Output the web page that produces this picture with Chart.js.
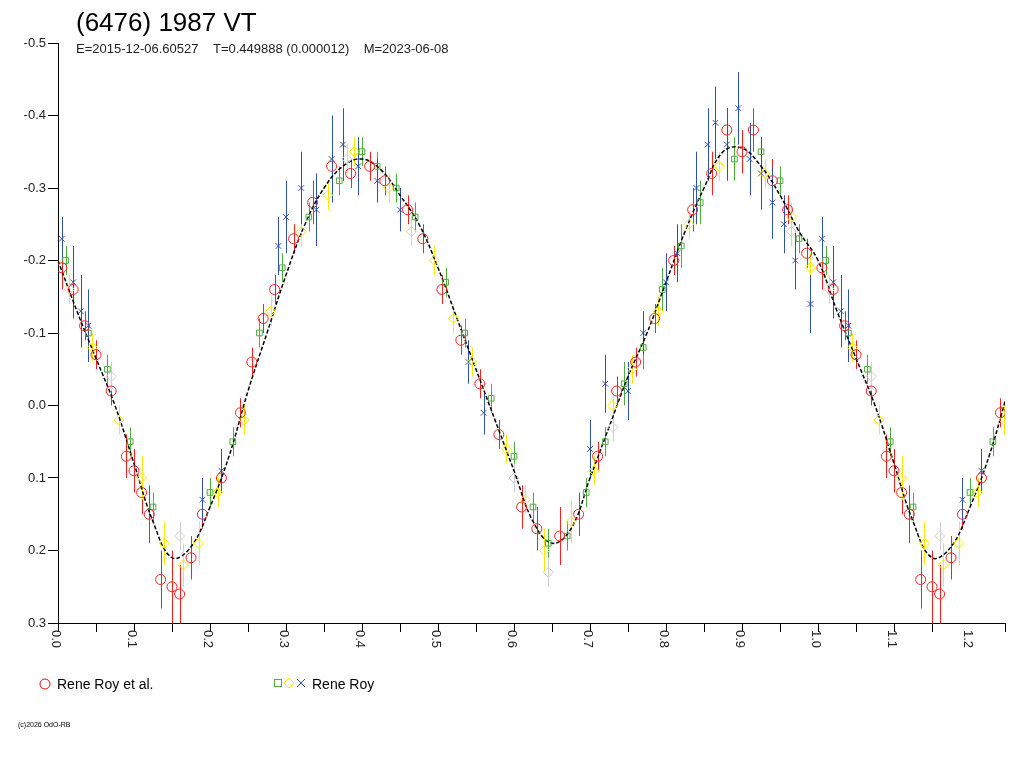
<!DOCTYPE html>
<html>
<head>
<meta charset="utf-8">
<script src="https://cdn.jsdelivr.net/npm/chart.js@4"></script>
<style>
  body { margin: 0; background: #fff; }
  canvas { display: block; }
</style>
</head>
<body>
<canvas id="c" width="1024" height="768"></canvas>
<script>
// phase, magnitude, error
const fitPhase = [0, 0.025, 0.05, 0.075, 0.1, 0.125, 0.15, 0.175, 0.2, 0.225, 0.25, 0.275, 0.3, 0.325, 0.35, 0.375, 0.4, 0.425, 0.45, 0.475, 0.5, 0.525, 0.55, 0.575, 0.6, 0.625, 0.65, 0.675, 0.7, 0.725, 0.75, 0.775, 0.8, 0.825, 0.85, 0.875, 0.9, 0.925, 0.95, 0.975, 1.0]
const fitMag = [-0.2, -0.13, -0.065, 0.0, 0.08, 0.16, 0.21, 0.195, 0.14, 0.07, -0.02, -0.1, -0.18, -0.25, -0.3, -0.33, -0.34, -0.325, -0.29, -0.25, -0.19, -0.12, -0.05, 0.02, 0.09, 0.16, 0.19, 0.17, 0.1, 0.03, -0.04, -0.1, -0.17, -0.24, -0.3, -0.35, -0.355, -0.33, -0.29, -0.24, -0.2]

const royAl = [[0.005,-0.19,0.03],[0.02,-0.16,0.03],[0.035,-0.11,0.02],[0.05,-0.07,0.02],[0.07,-0.02,0.02],[0.09,0.07,0.03],[0.1,0.09,0.03],[0.11,0.12,0.03],[0.12,0.15,0.04],[0.135,0.24,0.04],[0.15,0.25,0.05],[0.16,0.26,0.04],[0.175,0.21,0.03],[0.19,0.15,0.02],[0.215,0.1,0.02],[0.24,0.01,0.02],[0.255,-0.06,0.02],[0.27,-0.12,0.02],[0.285,-0.16,0.02],[0.31,-0.23,0.02],[0.335,-0.28,0.03],[0.36,-0.33,0.02],[0.385,-0.32,0.02],[0.41,-0.33,0.02],[0.43,-0.31,0.02],[0.46,-0.27,0.02],[0.48,-0.23,0.02],[0.505,-0.16,0.02],[0.53,-0.09,0.02],[0.555,-0.03,0.02],[0.58,0.04,0.02],[0.61,0.14,0.03],[0.63,0.17,0.03],[0.66,0.18,0.04],[0.685,0.15,0.03],[0.71,0.07,0.02],[0.735,-0.02,0.02],[0.76,-0.06,0.02],[0.785,-0.12,0.02],[0.81,-0.2,0.02],[0.835,-0.27,0.03],[0.86,-0.32,0.03],[0.88,-0.38,0.03],[0.9,-0.35,0.03],[0.915,-0.38,0.03],[0.94,-0.31,0.03],[0.96,-0.27,0.02],[0.985,-0.21,0.02]]
const royGreen = [[0.01,-0.2,0.02],[0.04,-0.1,0.02],[0.065,-0.05,0.02],[0.095,0.05,0.02],[0.125,0.14,0.02],[0.2,0.12,0.02],[0.23,0.05,0.02],[0.265,-0.1,0.02],[0.295,-0.19,0.02],[0.33,-0.26,0.02],[0.37,-0.31,0.02],[0.4,-0.35,0.02],[0.42,-0.33,0.02],[0.445,-0.3,0.02],[0.47,-0.26,0.02],[0.51,-0.17,0.02],[0.535,-0.1,0.02],[0.57,-0.01,0.02],[0.6,0.07,0.02],[0.625,0.14,0.02],[0.645,0.19,0.02],[0.67,0.18,0.02],[0.695,0.12,0.02],[0.72,0.05,0.02],[0.745,-0.03,0.03],[0.77,-0.08,0.03],[0.795,-0.16,0.03],[0.82,-0.22,0.03],[0.845,-0.28,0.03],[0.89,-0.34,0.03],[0.925,-0.35,0.02],[0.95,-0.31,0.02],[0.975,-0.23,0.02]]
const royYellow = [[0.015,-0.16,0.02],[0.045,-0.08,0.02],[0.08,0.02,0.02],[0.11,0.1,0.03],[0.14,0.19,0.03],[0.165,0.22,0.03],[0.185,0.19,0.03],[0.21,0.12,0.02],[0.245,0.02,0.02],[0.28,-0.13,0.02],[0.32,-0.24,0.02],[0.355,-0.29,0.02],[0.39,-0.35,0.02],[0.435,-0.3,0.02],[0.465,-0.24,0.02],[0.495,-0.2,0.02],[0.52,-0.12,0.02],[0.545,-0.06,0.02],[0.59,0.06,0.02],[0.615,0.13,0.02],[0.64,0.2,0.03],[0.675,0.16,0.03],[0.705,0.09,0.02],[0.73,0.0,0.02],[0.755,-0.05,0.02],[0.79,-0.13,0.02],[0.83,-0.25,0.02],[0.87,-0.33,0.02],[0.93,-0.32,0.02],[0.965,-0.26,0.02],[0.99,-0.19,0.02]]
const royBlue = [[0.005,-0.23,0.03],[0.02,-0.17,0.05],[0.03,-0.13,0.05],[0.04,-0.11,0.05],[0.19,0.13,0.03],[0.215,0.09,0.03],[0.29,-0.22,0.04],[0.3,-0.26,0.05],[0.32,-0.3,0.05],[0.34,-0.27,0.05],[0.36,-0.34,0.06],[0.375,-0.36,0.05],[0.395,-0.33,0.04],[0.42,-0.31,0.03],[0.45,-0.27,0.03],[0.54,-0.06,0.03],[0.56,0.01,0.03],[0.7,0.06,0.04],[0.72,-0.03,0.04],[0.75,-0.02,0.04],[0.77,-0.1,0.03],[0.8,-0.17,0.04],[0.815,-0.21,0.04],[0.84,-0.3,0.05],[0.855,-0.36,0.05],[0.865,-0.39,0.05],[0.88,-0.36,0.05],[0.895,-0.41,0.05],[0.91,-0.34,0.05],[0.925,-0.32,0.05],[0.94,-0.28,0.05],[0.955,-0.25,0.04],[0.97,-0.2,0.04],[0.99,-0.14,0.04]]
const royGrey = [[0.07,-0.04,0.02],[0.16,0.18,0.02],[0.38,-0.34,0.02],[0.6,0.1,0.02],[0.645,0.23,0.02],[0.73,0.03,0.02],[0.965,-0.24,0.02]]

const yTicks = ['-0.5', '-0.4', '-0.3', '-0.2', '-0.1', '0.0', '0.1', '0.2', '0.3']

// repeat phases below 0.25 past 1.0
function wrap(arr) {
  let out = arr.map(p => ({ x: p[0], y: p[1], e: p[2] }))
  arr.forEach(p => { if (p[0] < 0.25) out.push({ x: p[0] + 1, y: p[1], e: p[2] }) })
  return out
}
let fitData = fitPhase.map((p, i) => ({ x: p, y: fitMag[i] }))
fitPhase.forEach((p, i) => { if (p > 0 && p <= 0.25) fitData.push({ x: p + 1, y: fitMag[i] }) })

function pointSet(label, arr, color, style, r) {
  return {
    type: 'scatter', label: label, data: wrap(arr), pointStyle: style, pointRadius: r,
    borderColor: color, backgroundColor: 'rgba(0,0,0,0)', borderWidth: 1, errColor: color,
  }
}

const errorBars = {
  id: 'errorBars',
  beforeDatasetsDraw(chart) {
    const { ctx, scales } = chart
    ctx.save()
    ctx.lineWidth = 1
    chart.data.datasets.forEach(ds => {
      if (!ds.errColor) return
      ctx.strokeStyle = ds.errColor
      ds.data.forEach(p => {
        let x = Math.round(scales.x.getPixelForValue(p.x)) + 0.5
        ctx.beginPath()
        ctx.moveTo(x, scales.y.getPixelForValue(p.y - p.e))
        ctx.lineTo(x, scales.y.getPixelForValue(p.y + p.e))
        ctx.stroke()
      })
    })
    ctx.restore()
  },
  afterDraw(chart) {
    const { ctx, scales } = chart
    ctx.save()
    ctx.fillStyle = '#000'
    ctx.font = '26px "Liberation Sans"'
    ctx.fillText('(6476) 1987 VT', 76, 31)
    ctx.fillStyle = '#222'
    ctx.font = '13px "Liberation Sans"'
    ctx.fillText('E=2015-12-06.60527    T=0.449888 (0.000012)    M=2023-06-08', 76, 53)
    // x tick labels, reading downward
    ctx.font = '13px "Liberation Sans"'
    for (let i = 0; i <= 12; i++) {
      let x = scales.x.getPixelForValue(i / 10)
      ctx.save()
      ctx.translate(x - 6, 630)
      ctx.rotate(Math.PI / 2)
      ctx.textBaseline = 'alphabetic'
      ctx.fillText((i / 10).toFixed(1), 0, 0)
      ctx.restore()
    }
    // legend
    ctx.font = '14px "Liberation Sans"'
    ctx.lineWidth = 1
    ctx.strokeStyle = 'red'
    ctx.beginPath(); ctx.arc(45, 684, 5, 0, Math.PI * 2); ctx.stroke()
    ctx.fillStyle = '#000'
    ctx.fillText('Rene Roy et al.', 57, 689)
    ctx.strokeStyle = '#4caf3c'; ctx.strokeRect(274.5, 679.5, 7, 7)
    ctx.strokeStyle = '#ffe800'
    ctx.beginPath(); ctx.moveTo(289, 678); ctx.lineTo(294, 683); ctx.lineTo(289, 688); ctx.lineTo(284, 683); ctx.closePath(); ctx.stroke()
    ctx.strokeStyle = '#3050b0'
    ctx.beginPath(); ctx.moveTo(297, 679); ctx.lineTo(305, 687); ctx.moveTo(305, 679); ctx.lineTo(297, 687); ctx.stroke()
    ctx.fillText('Rene Roy', 312, 689)
    ctx.font = '7px "Liberation Sans"'
    ctx.fillText('(c)2026 OdO-RB', 18, 727)
    ctx.restore()
  },
}

new Chart(document.getElementById('c'), {
  data: {
    datasets: [
      pointSet('Rene Roy et al.', royAl, '#ff2020', 'circle', 5),
      pointSet('Rene Roy', royGreen, '#4caf3c', 'rect', 4),
      pointSet('Rene Roy', royYellow, '#ffe800', 'rectRot', 5),
      pointSet('Rene Roy', royGrey, '#d0d0d0', 'rectRot', 5),
      pointSet('Rene Roy', royBlue, '#3050b0', 'crossRot', 4),
      {
        type: 'line', label: 'fit', data: fitData, borderColor: '#000', borderWidth: 1.5,
        borderDash: [4, 2], pointRadius: 0, tension: 0.4, fill: false,
      },
    ],
  },
  options: {
    responsive: false,
    animation: false,
    layout: { padding: { top: 43, right: 19, left: 0, bottom: 0 } },
    plugins: { legend: { display: false }, tooltip: { enabled: false } },
    scales: {
      x: {
        type: 'linear', min: 0, max: 1.246,
        grid: { drawOnChartArea: false, color: '#000', tickLength: 9, offset: false },
        border: { color: '#000' },
        ticks: { stepSize: 0.05, display: false },
        afterFit(s) { s.height = 145 },
      },
      y: {
        type: 'linear', reverse: true, min: -0.5, max: 0.3,
        grid: { drawOnChartArea: false, color: '#000', tickLength: 10 },
        border: { color: '#000' },
        ticks: {
          stepSize: 0.1, color: '#222', font: { family: 'Liberation Sans', size: 13 }, padding: 2,
          callback: (v) => yTicks[Math.round((v + 0.5) * 10)],
        },
        afterFit(s) { s.width = 58 },
      },
    },
  },
  plugins: [errorBars],
})
</script>
</body>
</html>
